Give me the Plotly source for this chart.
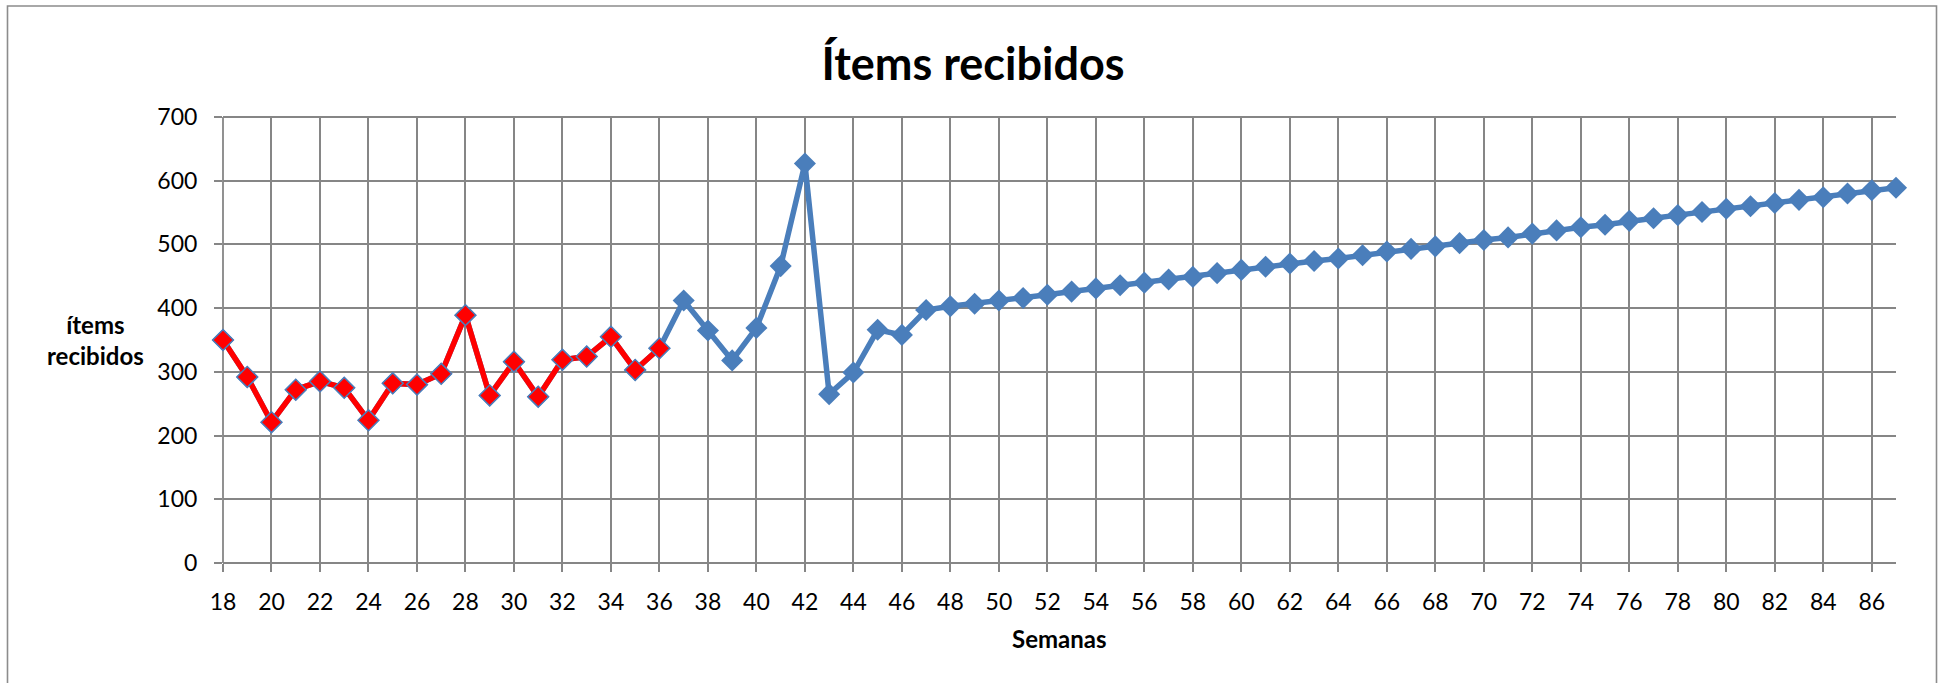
import plotly.graph_objects as go

# Weekly received items (weeks 18-87)
weeks = list(range(18, 88))
items = [
    350, 292, 221, 272, 285, 275, 224, 282, 280, 297,
    389, 263, 316, 261, 319, 324, 355, 303, 337, 412,
    365, 318, 369, 466, 627, 265, 299, 366, 358, 397,
    403, 407, 412, 416, 421, 426, 431, 436, 440, 445,
    449, 455, 460, 465, 470, 474, 478, 483, 489, 493,
    497, 502, 507, 511, 517, 522, 527, 531, 537, 541,
    546, 551, 556, 560, 565, 570, 574, 580, 585, 589,
]
# Historical part highlighted in red (weeks 18-36)
hist_end = 36
hist_weeks = [w for w in weeks if w <= hist_end]
hist_items = items[:len(hist_weeks)]

title_text = "Ítems recibidos"
x_title = "Semanas"
y_title = "ítems<br>recibidos"
y_ticks = [0, 100, 200, 300, 400, 500, 600, 700]

BLUE = "#4A7EBB"
RED = "#FF0000"
GRID = "#868686"
FONT = "Lato, 'Open Sans', sans-serif"

W, H = 1941, 683
ML, MR, MT, MB = 223, 45, 117, 120
pw = W - ML - MR
ph = H - MT - MB

fig = go.Figure()
fig.add_trace(go.Scatter(
    x=weeks, y=items, mode="lines+markers",
    line=dict(color=BLUE, width=5.5),
    marker=dict(symbol="diamond", size=17, color=BLUE),
    cliponaxis=False, showlegend=False,
))
fig.add_trace(go.Scatter(
    x=hist_weeks, y=hist_items, mode="lines+markers",
    line=dict(color=RED, width=5.5),
    marker=dict(symbol="diamond", size=16, color=RED,
                line=dict(color=BLUE, width=1.5)),
    cliponaxis=False, showlegend=False,
))

def px_x(px):
    return (px - ML) / pw

def px_y(py):
    return (H - MB - py) / ph

axis_common = dict(showgrid=True, gridcolor=GRID, gridwidth=1.8, zeroline=False,
                   showline=False,
                   ticks="outside", ticklen=8, tickwidth=1.8, tickcolor=GRID,
                   tickfont=dict(size=23))

edge = dict(color=GRID, width=1.8)

fig.update_layout(
    width=W, height=H,
    margin=dict(l=ML, r=MR, t=MT, b=MB),
    paper_bgcolor="white", plot_bgcolor="white",
    font=dict(family=FONT, color="black", size=23),
    title=dict(text=f"<b>{title_text}</b>", x=973 / W, xref="container",
               xanchor="center", y=1 - 64 / H, yref="container", yanchor="middle",
               font=dict(size=45, family=FONT, color="black")),
    xaxis=dict(range=[18, 87], tick0=18, dtick=2,
               ticklabelstandoff=10, **axis_common),
    yaxis=dict(range=[0, 700], tickvals=y_ticks,
               ticklabelstandoff=12, **axis_common),
    annotations=[
        dict(text=f"<b>{y_title}</b>", x=px_x(95), y=0.5, xref="paper", yref="paper",
             xanchor="center", yanchor="middle", showarrow=False,
             font=dict(size=24, family=FONT, color="black")),
        dict(text=f"<b>{x_title}</b>", x=px_x(1059), y=px_y(638), xref="paper", yref="paper",
             xanchor="center", yanchor="middle", showarrow=False,
             font=dict(size=24, family=FONT, color="black")),
    ],
    shapes=[
        # grid lines lying on the plot edges (top, bottom, left)
        dict(type="line", xref="paper", yref="paper", x0=0, x1=1, y0=1, y1=1,
             line=edge, layer="below"),
        dict(type="line", xref="paper", yref="paper", x0=0, x1=1, y0=0, y1=0,
             line=edge, layer="below"),
        dict(type="line", xref="paper", yref="paper", x0=0, x1=0, y0=0, y1=1,
             line=edge, layer="below"),
        # chart frame (left, top, right edges; bottom runs past the page)
        dict(type="path", xref="paper", yref="paper",
             path=f"M {px_x(7.5)},{px_y(700)} L {px_x(7.5)},{px_y(6)} "
                  f"L {px_x(1936.5)},{px_y(6)} L {px_x(1936.5)},{px_y(700)}",
             line=dict(color="#8C8C8C", width=1.6), layer="below"),
    ],
)

fig.write_html("out.html")
